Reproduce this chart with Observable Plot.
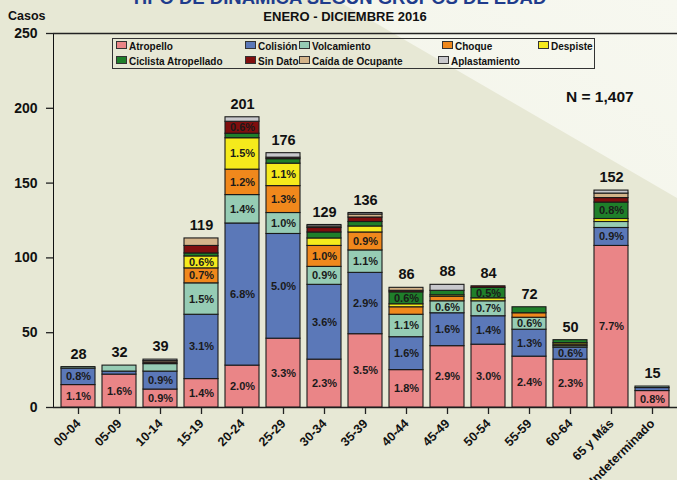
<!DOCTYPE html>
<html><head><meta charset="utf-8">
<script src="https://cdn.jsdelivr.net/npm/d3@7"></script>
<script src="https://cdn.jsdelivr.net/npm/@observablehq/plot@0.6"></script>
<style>
html,body{margin:0;padding:0;}
body{width:677px;height:480px;overflow:hidden;position:relative;background:#e7e8d5;font-family:"Liberation Sans",Arial,sans-serif;}
#light{position:absolute;left:0;top:0;width:677px;height:480px;clip-path:polygon(336px 0,677px 0,677px 198px);background:linear-gradient(215deg,#f7f8f0 0%,#eef0e1 100%);}
#chart{position:absolute;left:0;top:0;}
.t{position:absolute;font-weight:bold;white-space:nowrap;color:#111;}
#title{top:-13px;left:0;width:677px;text-align:center;font-size:18.5px;color:#1f3c8c;}
#sub{top:9px;left:0;width:690px;text-align:center;font-size:13px;}
#casos{top:9px;left:8px;font-size:12.5px;}
#nn{top:88px;left:566px;font-size:15.5px;}
#legend{position:absolute;left:112px;top:38px;width:481px;height:29px;border:1.5px solid #333;}
.li{position:absolute;font-size:10px;font-weight:bold;color:#111;white-space:nowrap;line-height:12px;}
.sw{display:inline-block;width:9px;height:6px;border:1px solid #333;margin-right:2px;vertical-align:1px;}
</style></head>
<body>
<div id="light"></div>
<div id="chart"></div>
<div class="t" id="title">TIPO DE DINÁMICA SEGÚN GRUPOS DE EDAD</div>
<div class="t" id="sub">ENERO - DICIEMBRE 2016</div>
<div class="t" id="casos">Casos</div>
<div class="t" id="nn">N = 1,407</div>
<div id="legend"></div>
<script>
const N = 1407;
const categories = ["00-04","05-09","10-14","15-19","20-24","25-29","30-34","35-39","40-44","45-49","50-54","55-59","60-64","65 y Más","Indeterminado"];
const totals = [28,32,39,119,201,176,129,136,86,88,84,72,50,152,15];
const series = ["Atropello","Colisión","Volcamiento","Choque","Despiste","Ciclista Atropellado","Sin Dato","Caída de Ocupante","Aplastamiento"];
const colors = ["#ea8587","#5b78b8","#96ccb4","#f0881c","#f5ea1c","#1f7f2a","#800e0e","#d4b48a","#c8c8cc"];
const atropello     = [15,22,12,19,28,46,32,49,25,41,42,34,32,108,11];
const colision      = [11, 2,12,43,95,70,50,41,22,22,19,18, 8, 12, 2];
const volcamiento   = [ 1, 4, 5,21,19,14,12,15,15, 8,10, 8, 1,  4, 1];
const choque        = [ 0, 0, 0,10,17,18,14,12, 5, 3, 0, 3, 1,  0, 0];
const despiste      = [ 0, 0, 0, 8,21,15, 5, 4, 2, 1, 2, 0, 1,  2, 0];
const ciclista      = [ 0, 0, 0, 2, 3, 3, 4, 3, 8, 3, 7, 4, 2, 11, 0];
const sinDato       = [ 0, 0, 1, 5, 8, 1, 3, 3, 1, 0, 1, 0, 0,  3, 0];
const caida         = [ 0, 0, 1, 5, 0, 0, 1, 2, 2, 0, 0, 0, 0,  3, 0];
const aplastamiento = [ 0, 0, 1, 0, 3, 3, 1, 1, 0, 4, 0, 0, 0,  2, 0];
const yTicks = [0,50,100,150,200,250];

const seriesValues = [atropello,colision,volcamiento,choque,despiste,ciclista,sinDato,caida,aplastamiento];
const rows = [];
series.forEach((s,i)=>categories.forEach((c,j)=>rows.push({cat:c, series:s, value:seriesValues[i][j]})));
const totalRows = categories.map((c,j)=>({cat:c, sum:d3.sum(seriesValues,a=>a[j]), label:String(totals[j])}));
const pct = v => (v/N*100).toFixed(1)+"%";

const chart = Plot.plot({
  width:677, height:480,
  marginTop:33, marginBottom:73, marginLeft:53, marginRight:0,
  style:{background:"transparent", fontFamily:"Liberation Sans, Arial, sans-serif", fontWeight:"bold", color:"#111", fontSize:"14px"},
  x:{domain:categories, padding:0.18, label:null, tickSize:7, tickRotate:-45, tickPadding:7},
  y:{domain:[0,250], ticks:yTicks, label:null, tickSize:7, line:true, tickPadding:9},
  color:{domain:series, range:colors},
  marks:[
    Plot.ruleY([0,250],{stroke:"#222", strokeWidth:1.3}),
    Plot.barY(rows,{x:"cat", y:"value", fill:"series", order:series, stroke:"#1a1a1a", strokeWidth:1.1}),
    Plot.text(rows, Plot.stackY({x:"cat", y:"value", z:"series", order:series, text:d=>d.value>=7?pct(d.value):null, fontSize:11, fontWeight:"bold", fill:"#1a1a1a"})),
    Plot.text(totalRows,{x:"cat", y:"sum", text:"label", dy:-13, fontSize:14.5, fontWeight:"bold", fill:"#111"})
  ]
});
document.getElementById("chart").appendChild(chart);
d3.select(chart).selectAll('g[aria-label="x-axis tick label"] text').style("font-size","12.5px");
d3.select(chart).selectAll('g[aria-label="x-axis tick"], g[aria-label="y-axis tick"], g[aria-label="y-axis line"]').attr("stroke","#222").attr("stroke-width",1.3);

const legendPos = [[0,4],[129,4],[183,4],[326,4],[422,4],[0,19],[129,19],[183,19],[322,19]];
const lg = document.getElementById("legend");
series.forEach((s,i)=>{
  const el = document.createElement("div");
  el.className="li";
  el.style.left=(legendPos[i][0]+3)+"px"; el.style.top=(legendPos[i][1]-2)+"px";
  el.innerHTML='<span class="sw" style="background:'+colors[i]+'"></span>'+s;
  lg.appendChild(el);
});
</script>
</body></html>
